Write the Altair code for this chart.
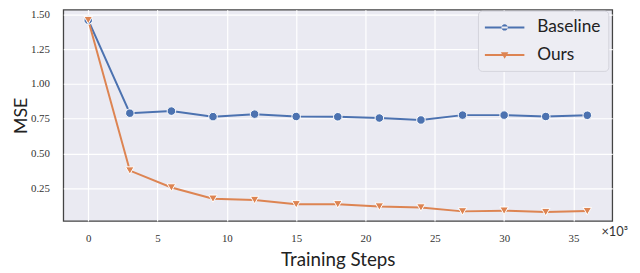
import altair as alt
import pandas as pd

steps = [0, 3, 6, 9, 12, 15, 18, 21, 24, 27, 30, 33, 36]
baseline = [1.46, 0.790, 0.805, 0.765, 0.783, 0.766, 0.764, 0.755, 0.741, 0.776, 0.776, 0.766, 0.775]
ours = [1.46, 0.377, 0.255, 0.174, 0.165, 0.134, 0.134, 0.118, 0.111, 0.083, 0.088, 0.078, 0.085]
series_names = ["Baseline", "Ours"]
x_ticks = [0, 5, 10, 15, 20, 25, 30, 35]
y_ticks = [0.25, 0.50, 0.75, 1.00, 1.25, 1.50]
colors = ["#4C72B0", "#DD8452"]

df = pd.DataFrame(
    {
        "step": steps * 2,
        "mse": baseline + ours,
        "series": ["Baseline"] * len(steps) + ["Ours"] * len(steps),
    }
)

LINE = "M-2,-0.1H2V0.1H-2Z"
CIRCLE = "M-0.32,0A0.32,0.32 0 1,0 0.32,0A0.32,0.32 0 1,0 -0.32,0Z"
TRI = "M-0.38,-0.3L0.38,-0.3L0,0.36Z"
legend_paths = [LINE + CIRCLE, LINE + TRI]

xs = alt.Scale(domain=[-1.8, 37.8], nice=False, zero=False)
ys = alt.Scale(domain=[0.014, 1.535], nice=False, zero=False)


def cs():
    return alt.Scale(domain=series_names, range=colors)


x_enc = alt.X(
    "step:Q",
    scale=xs,
    axis=alt.Axis(
        values=x_ticks,
        title="Training Steps",
        labelFont="Liberation Serif",
        labelFontSize=11,
        labelColor="#333333",
        labelPadding=12,
        titleFont="Lato",
        titleFontSize=19,
        titleFontWeight="normal",
        titleColor="#222222",
        titlePadding=7,
    ),
)
y_enc = alt.Y(
    "mse:Q",
    scale=ys,
    axis=alt.Axis(
        values=y_ticks,
        format=".2f",
        title="MSE",
        labelFont="Liberation Serif",
        labelFontSize=11,
        labelColor="#333333",
        labelPadding=14,
        titleFont="Lato",
        titleFontSize=18,
        titleFontWeight="normal",
        titleColor="#222222",
        titlePadding=0,
    ),
)

lines = alt.Chart(df).mark_line(strokeWidth=2).encode(
    x=x_enc, y=y_enc, color=alt.Color("series:N", scale=cs(), legend=None), detail="series:N"
)

points = alt.Chart(df).mark_point(filled=True, opacity=1, size=75, stroke="white", strokeWidth=1).encode(
    x=x_enc,
    y=y_enc,
    color=alt.Color("series:N", scale=cs(), legend=None),
    shape=alt.Shape("series:N", scale=alt.Scale(domain=series_names, range=["circle", "triangle-down"]), legend=None),
)

leg = alt.Legend(
    title=None,
    orient="none",
    legendX=420,
    legendY=1,
    labelFont="Lato",
    labelFontSize=17.5,
    labelColor="#222222",
    symbolSize=400,
    symbolOffset=10,
    symbolStrokeWidth=0,
    labelOffset=23,
    rowPadding=9,
    padding=7,
    fillColor="#EDEDF3",
    strokeColor="#D3D3DB",
    cornerRadius=4,
)

legend_layer = (
    alt.Chart(df)
    .transform_filter("false")
    .mark_point(filled=True, opacity=1)
    .encode(
        x=x_enc,
        y=y_enc,
        color=alt.Color("series:N", scale=cs(), legend=leg),
        shape=alt.Shape("series:N", scale=alt.Scale(domain=series_names, range=legend_paths), legend=leg),
    )
)

offset_text = (
    alt.Chart(pd.DataFrame({"t": ["×10³"]}))
    .mark_text(font="Lato", fontSize=13, align="left", baseline="middle", color="#333333")
    .encode(text="t:N", x=alt.value(545), y=alt.value(225))
)

chart = (
    alt.layer(lines, points, legend_layer, offset_text)
    .resolve_scale(shape="independent", color="independent")
    .properties(
        width=556,
        height=214,
        padding={"left": 56, "top": 0, "right": 20, "bottom": 51},
        autosize=alt.AutoSizeParams(type="none"),
        background="white",
    )
    .configure_view(fill="#EAEAF2", stroke="#444444", strokeWidth=1.3)
    .configure_axis(
        grid=True, gridColor="white", gridWidth=1.2, ticks=False, tickSize=0, domain=False
    )
)

chart.save("out.html", embed_options={"renderer": "svg", "actions": False})
